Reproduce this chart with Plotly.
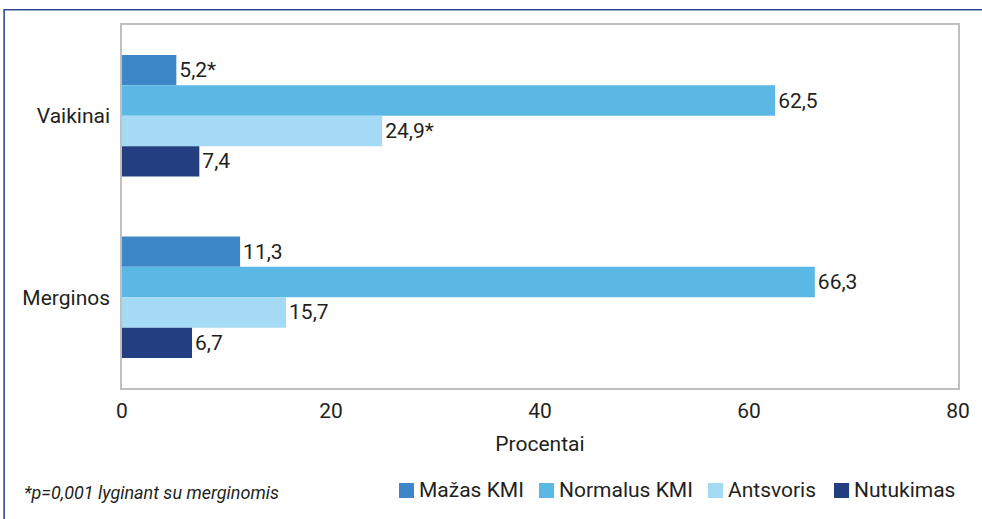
import plotly.graph_objects as go

categories = ["Vaikinai", "Merginos"]
series_names = ["Mažas KMI", "Normalus KMI", "Antsvoris", "Nutukimas"]
mazas = [5.2, 11.3]
normalus = [62.5, 66.3]
antsvoris = [24.9, 15.7]
nutukimas = [7.4, 6.7]
mazas_labels = ["5,2*", "11,3"]
normalus_labels = ["62,5", "66,3"]
antsvoris_labels = ["24,9*", "15,7"]
nutukimas_labels = ["7,4", "6,7"]
colors = ["#3d87c8", "#5bb8e5", "#a4daf3", "#233f80"]
x_ticks = [0, 20, 40, 60, 80]
footnote = "*p=0,001 lyginant su merginomis"

# legend layout (paper coordinates)
legend_marker_x0 = [0.3313, 0.4988, 0.7010, 0.8517]
legend_marker_w = 0.0180
legend_marker_y = (-0.303, -0.2617)
legend_text_x = [0.3540, 0.5215, 0.7237, 0.8744]
legend_text_y = -0.282

FONT = "Roboto, Lato, sans-serif"
TXT = "#231f20"
FS = 21

fig = go.Figure()
for name, vals, labels, col in zip(series_names,
                                    [mazas, normalus, antsvoris, nutukimas],
                                    [mazas_labels, normalus_labels, antsvoris_labels, nutukimas_labels],
                                    colors):
    fig.add_trace(go.Bar(
        y=categories, x=vals, name=name, orientation="h",
        marker=dict(color=col, line=dict(width=0)),
        text=labels, textposition="outside", cliponaxis=False,
        textfont=dict(family=FONT, size=FS, color=TXT),
        hoverinfo="x+y", showlegend=False,
    ))

shapes = [dict(type="rect", xref="paper", yref="paper",
               x0=-0.141, x1=1.2, y0=-0.6, y1=1.042,
               line=dict(color="#34499a", width=1.6), fillcolor="rgba(0,0,0,0)",
               layer="below")]
annotations = [dict(text="<i>" + footnote + "</i>", xref="paper", yref="paper",
                    x=-0.1196, y=-0.289, xanchor="left", yanchor="middle", showarrow=False,
                    font=dict(family=FONT, size=18, color=TXT))]
for name, col, mx, tx in zip(series_names, colors, legend_marker_x0, legend_text_x):
    shapes.append(dict(type="rect", xref="paper", yref="paper",
                       x0=mx, x1=mx + legend_marker_w,
                       y0=legend_marker_y[0], y1=legend_marker_y[1],
                       line=dict(width=0), fillcolor=col))
    annotations.append(dict(text=name, xref="paper", yref="paper", x=tx, y=legend_text_y,
                            xanchor="left", yanchor="middle", showarrow=False, borderpad=0,
                            font=dict(family=FONT, size=FS, color=TXT)))

fig.update_layout(
    width=982, height=519,
    margin=dict(l=122, r=24, t=25, b=131),
    paper_bgcolor="white", plot_bgcolor="white",
    barmode="group", bargap=0.33, bargroupgap=0,
    font=dict(family=FONT, size=FS, color=TXT),
    showlegend=False,
    xaxis=dict(range=[0, 80], tickvals=x_ticks, ticktext=[str(v) for v in x_ticks],
               showgrid=False, zeroline=False, showline=True, mirror=True,
               linecolor="#bfbfbf", linewidth=1.5, ticks="", ticklabelstandoff=3,
               tickfont=dict(family=FONT, size=FS, color=TXT),
               title=dict(text="Procentai", standoff=14,
                          font=dict(family=FONT, size=FS, color=TXT))),
    yaxis=dict(autorange="reversed", showgrid=False, zeroline=False, showline=True,
               mirror=True, linecolor="#bfbfbf", linewidth=1.5, ticks="",
               ticklabelstandoff=6, tickfont=dict(family=FONT, size=FS, color=TXT)),
    shapes=shapes,
    annotations=annotations,
)

fig.write_html("out.html")
